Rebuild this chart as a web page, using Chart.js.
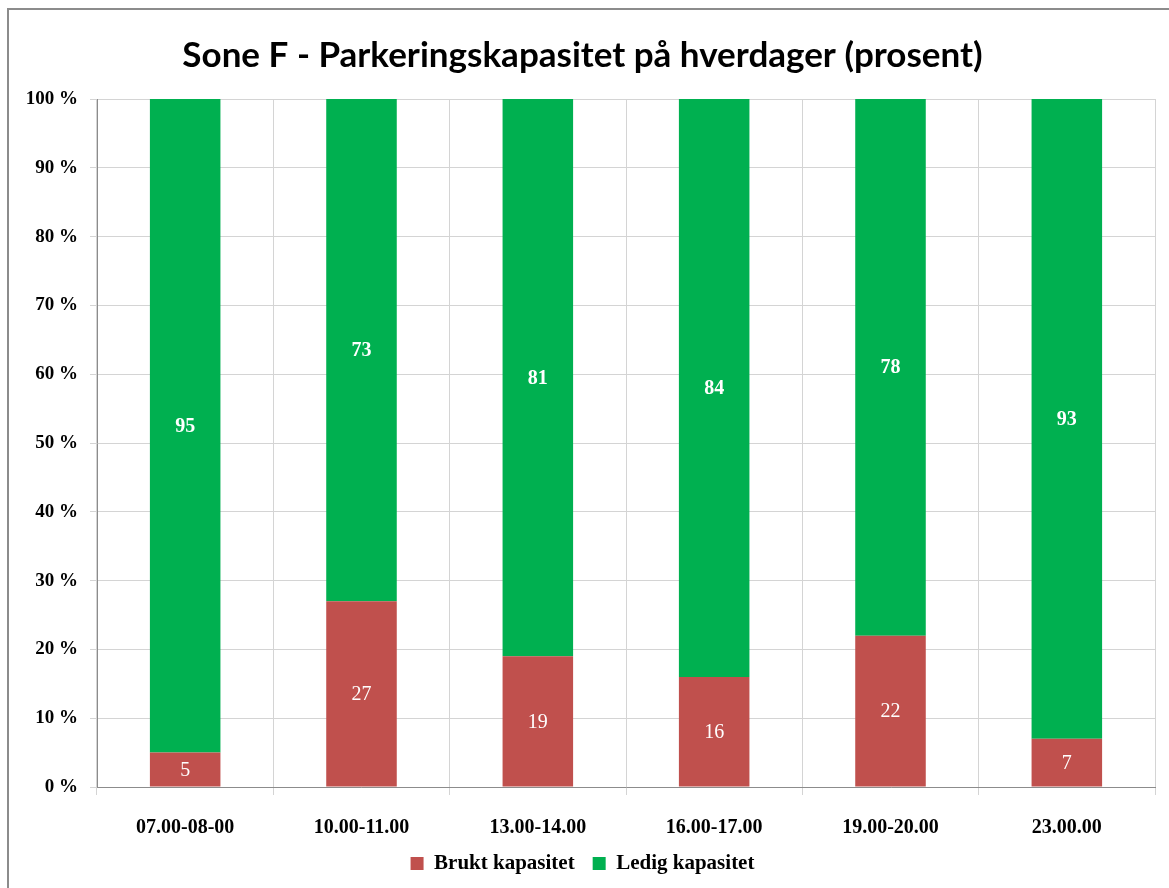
<!DOCTYPE html>
<html>
<head>
<meta charset="utf-8">
<script src="https://cdn.jsdelivr.net/npm/chart.js@4.4.0/dist/chart.umd.min.js"></script>
<style>
  body { margin: 0; background: #fff; }
  #frame { position: absolute; left: 7px; top: 8px; width: 1200px; height: 900px; border: 2px solid #8c8c8c; }
  #mycanvas { position: absolute; left: 0; top: 0; }
</style>
</head>
<body>
<div id="frame"></div>
<canvas id="mycanvas" width="1169" height="888"></canvas>
<script>
var categories = ['07.00-08-00', '10.00-11.00', '13.00-14.00', '16.00-17.00', '19.00-20.00', '23.00.00'];
var brukt = [5, 27, 19, 16, 22, 7];
var ledig = [95, 73, 81, 84, 78, 93];
var yTicks = [0, 10, 20, 30, 40, 50, 60, 70, 80, 90, 100];

var serif = '"Liberation Serif", "DejaVu Serif", serif';

// writes the value in the middle of each bar
var barLabels = {
	id: 'barLabels',
	afterDatasetsDraw: function(chart) {
		var ctx = chart.ctx;
		ctx.save();
		ctx.fillStyle = '#ffffff';
		ctx.textAlign = 'center';
		ctx.textBaseline = 'middle';
		chart.data.datasets.forEach(function(ds, di) {
			var meta = chart.getDatasetMeta(di);
			ctx.font = (di == 1 ? 'bold ' : '') + '20px ' + serif;
			meta.data.forEach(function(bar, i) {
				var p = bar.getCenterPoint();
				ctx.fillText(ds.data[i], p.x, p.y + 1);
			});
		});
		ctx.restore();
	}
};

var chartdata = {
	labels: categories,
	datasets: [
		{
			label: 'Brukt kapasitet',
			backgroundColor: '#C0504D',
			data: brukt,
			barPercentage: 0.4,
			categoryPercentage: 1
		},
		{
			label: 'Ledig kapasitet',
			backgroundColor: '#00B050',
			data: ledig,
			barPercentage: 0.4,
			categoryPercentage: 1
		}
	]
};

var options = {
	responsive: false,
	animation: false,
	layout: { padding: { left: 10, right: 14, top: 20, bottom: 4 } },
	plugins: {
		title: {
			display: true,
			text: 'Sone F - Parkeringskapasitet på hverdager (prosent)',
			color: '#000',
			font: { family: 'Lato, "Open Sans", sans-serif', size: 35, weight: 'bold' },
			padding: { top: 15, bottom: 22 }
		},
		legend: {
			position: 'bottom',
			labels: {
				color: '#000',
				boxWidth: 13,
				boxHeight: 13,
				padding: 18,
				font: { family: serif, size: 21, weight: 'bold' }
			}
		},
		tooltip: { enabled: false }
	},
	scales: {
		x: {
			stacked: true,
			grid: { color: '#d4d4d4', tickLength: 8, offset: true },
			border: { color: '#8c8c8c' },
			ticks: { color: '#000', padding: 21, font: { family: serif, size: 20, weight: 'bold' } },
			afterFit: function(scale) { scale.height = 48; }
		},
		y: {
			stacked: true,
			min: 0,
			max: 100,
			grid: { color: '#d4d4d4', tickLength: 7 },
			border: { color: '#8c8c8c' },
			afterBuildTicks: function(scale) {
				scale.ticks = yTicks.map(function(v) { return { value: v }; });
			},
			ticks: {
				color: '#000',
				padding: 12,
				font: { family: serif, size: 19, weight: 'bold' },
				callback: function(v) { return v + ' %'; }
			},
			afterFit: function(scale) { scale.width = 87; }
		}
	}
};

var ctx = document.getElementById('mycanvas');
var barGraph = new Chart(ctx, {
	type: 'bar',
	data: chartdata,
	options: options,
	plugins: [barLabels]
});
</script>
</body>
</html>
